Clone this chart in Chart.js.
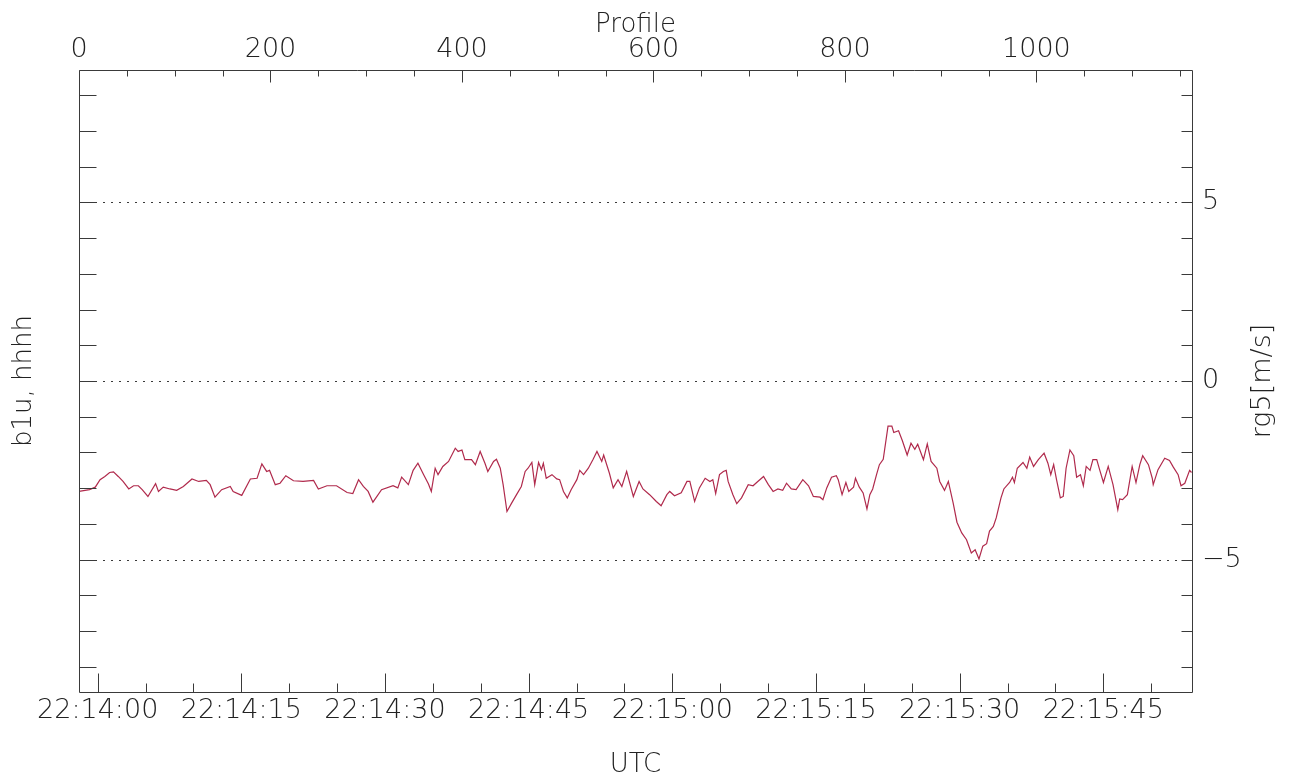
<!DOCTYPE html>
<html>
<head>
<meta charset="utf-8">
<title>rg5</title>
<script src="https://cdn.jsdelivr.net/npm/chart.js@4.4.1/dist/chart.umd.min.js"></script>
<style>
  html, body { margin: 0; padding: 0; background: #fff; }
  canvas { display: block; }
</style>
</head>
<body>
<canvas id="rgChart" width="1297" height="781"></canvas>
<script>
// profile number (top axis) and rg5 value
const profiles = [
  0, 11, 17, 22, 27, 32, 36, 41, 46, 52, 57, 62, 66, 72, 80, 83, 88, 95, 102, 109,
  118, 125, 133, 137, 142, 149, 158, 161, 170, 179, 186, 191, 196, 199, 205, 210, 216, 224, 234, 245,
  250, 259, 269, 280, 286, 292, 297, 302, 307, 316, 328, 333, 337, 344, 349, 354, 360, 365, 368, 372,
  375, 380, 386,
  393, 396, 400, 403, 410, 414, 419, 424, 427, 433, 436, 440, 443, 447, 452, 457, 462, 466, 469, 473,
  476, 480, 483, 485, 488, 494, 499, 502, 506, 510, 514, 520, 523, 527, 532, 537, 541, 546, 548, 554,
  558, 563, 567, 572, 579, 585, 589, 596, 603, 608, 614, 617, 622, 629, 635, 638, 643, 648, 654, 659,
  662, 665, 669, 673, 676, 678, 683, 687, 692, 699, 704, 709, 715, 720, 725, 730, 735, 739, 744, 749,
  756, 762, 767, 774, 777, 781, 786,
  791, 793, 797, 801, 804, 809, 811, 815, 819, 823, 826, 829, 833, 836, 840, 845, 849, 851, 856, 860,
  865, 869, 873, 876, 882, 886, 890, 896, 899, 904, 908, 913, 917, 922, 927, 932, 936, 940, 944, 948,
  951, 955, 958, 963, 966, 972, 975, 977, 980, 986, 990, 993, 997, 1002, 1008, 1012, 1015, 1018, 1021, 1025,
  1028, 1031, 1035, 1039, 1042, 1046, 1049, 1052, 1056, 1059, 1063, 1066, 1070, 1075, 1080, 1085, 1087, 1090, 1095, 1100,
  1104, 1108, 1111, 1117, 1121, 1122, 1127, 1134, 1139, 1143, 1148, 1151, 1155, 1160, 1162
];
const rg5 = [
  -3.09, -3.04, -2.97, -2.76, -2.67, -2.56, -2.54, -2.67, -2.81, -3.02, -2.93, -2.93, -3.04, -3.23, -2.87, -3.09, -2.97, -3.02, -3.06, -2.95,
  -2.74, -2.81, -2.78, -2.90, -3.25, -3.04, -2.95, -3.09, -3.20, -2.74, -2.72, -2.32, -2.53, -2.50, -2.90, -2.86, -2.65, -2.79, -2.81, -2.78,
  -3.02, -2.93, -2.93, -3.12, -3.15, -2.76, -2.95, -3.09, -3.39, -3.04, -2.93, -2.99, -2.69, -2.90, -2.50, -2.30, -2.62, -2.88, -3.09, -2.44,
  -2.62, -2.39, -2.25,
  -1.88, -1.97, -1.93, -2.20, -2.20, -2.34, -1.97, -2.30, -2.53, -2.25, -2.19, -2.44, -2.90, -3.65, -3.41, -3.18, -2.95, -2.53, -2.44, -2.28,
  -2.90, -2.28, -2.48, -2.30, -2.72, -2.62, -2.74, -2.76, -3.09, -3.27, -3.04, -2.76, -2.50, -2.62, -2.44, -2.19, -1.97, -2.25, -2.07, -2.58,
  -2.99, -2.76, -2.95, -2.53, -3.23, -2.81, -3.02, -3.18, -3.37, -3.49, -3.18, -3.09, -3.21, -3.13, -2.81, -2.81, -3.37, -2.99, -2.72, -2.81,
  -2.76, -3.15, -2.62, -2.53, -2.50, -2.81, -3.18, -3.43, -3.27, -2.90, -2.93, -2.81, -2.67, -2.90, -3.09, -3.02, -3.06, -2.86, -3.02, -3.04,
  -2.76, -2.93, -3.23, -3.25, -3.32, -2.99, -2.69,
  -2.65, -2.76, -3.18, -2.84, -3.09, -2.97, -2.72, -2.97, -3.13, -3.58, -3.18, -3.02, -2.62, -2.34, -2.19, -1.26, -1.26, -1.44, -1.39, -1.67,
  -2.07, -1.74, -1.91, -1.77, -2.20, -1.76, -2.25, -2.44, -2.81, -3.06, -2.81, -3.41, -3.95, -4.25, -4.44, -4.81, -4.72, -4.98, -4.62, -4.55,
  -4.20, -4.07, -3.83, -3.27, -3.02, -2.84, -2.69, -2.84, -2.44, -2.28, -2.44, -2.13, -2.39, -2.20, -2.02, -2.30, -2.62, -2.34, -2.76, -3.27,
  -3.23, -2.44, -1.93, -2.09, -2.69, -2.62, -2.93, -2.39, -2.50, -2.20, -2.20, -2.48, -2.84, -2.39, -2.90, -3.60, -3.30, -3.32, -3.18, -2.39,
  -2.84, -2.34, -2.09, -2.34, -2.72, -2.90, -2.48, -2.16, -2.22, -2.41, -2.62, -2.93, -2.86, -2.50, -2.56
];

const profileTicks = [0, 200, 400, 600, 800, 1000];
const utcTicks = [0, 15, 30, 45, 60, 75, 90, 105];   // seconds after 22:14:00
const rg5Ticks = [-5, 0, 5];

const profileMax = 1162.5;
const utcMin = -1.95, utcMax = 114.26;   // 10 profiles per second
const valMin = -8.7, valMax = 8.7;

const FONT = 'DejaVu Sans';
const TEXT = '#222';
const AXIS = '#3a3a3a';

function utcLabel(v) {
    const s = 80040 + v;
    const hh = Math.floor(s / 3600);
    const mm = Math.floor((s % 3600) / 60);
    const ss = Math.round(s % 60);
    const p = n => String(n).padStart(2, '0');
    return p(hh) + ':' + p(mm) + ':' + p(ss);
}

function fixTicks(list) {
    return function(scale) { scale.ticks = list.map(v => ({ value: v })); };
}

const frame = {
    id: 'frame',
    beforeDatasetsDraw(chart) {
        const ctx = chart.ctx, ca = chart.chartArea, y = chart.scales.y;
        ctx.save();
        ctx.strokeStyle = AXIS;
        ctx.lineWidth = 1;
        ctx.setLineDash([2, 6]);
        rg5Ticks.forEach(v => {
            const py = Math.round(y.getPixelForValue(v)) + 0.5;
            ctx.beginPath(); ctx.moveTo(ca.left, py); ctx.lineTo(ca.right, py); ctx.stroke();
        });
        ctx.restore();
    },
    afterDraw(chart) {
        const ctx = chart.ctx, ca = chart.chartArea;
        const y = chart.scales.y, x = chart.scales.x, x2 = chart.scales.x2;
        const L = ca.left + 0.5, R = Math.round(ca.right) + 0.5;
        const T = ca.top + 0.5, B = Math.round(ca.bottom) + 0.5;
        ctx.save();
        ctx.strokeStyle = AXIS;
        ctx.lineWidth = 1;
        const seg = (a, b, c, d) => { ctx.beginPath(); ctx.moveTo(a, b); ctx.lineTo(c, d); ctx.stroke(); };
        seg(L, T, R, T); seg(R, T, R, B); seg(R, B, L, B); seg(L, B, L, T);
        for (let v = -8; v <= 8; v++) {
            const py = Math.round(y.getPixelForValue(v)) + 0.5;
            seg(L, py, L + 17, py);
            seg(R - 11, py, R, py);
        }
        for (let p = 0; p <= 1150; p += 50) {
            const px = Math.round(x2.getPixelForValue(p)) + 0.5;
            seg(px, T, px, T + (p % 200 === 0 ? 12 : 6));
        }
        for (let s = 0; s <= 110; s += 5) {
            const px = Math.round(x.getPixelForValue(s)) + 0.5;
            seg(px, B, px, B - (s % 15 === 0 ? 19 : 9));
        }
        // right axis title reads bottom to top
        ctx.fillStyle = TEXT;
        ctx.font = '200 27px "' + FONT + '"';
        ctx.textAlign = 'center';
        ctx.textBaseline = 'middle';
        ctx.translate(1263, (ca.top + ca.bottom) / 2);
        ctx.rotate(-Math.PI / 2);
        ctx.fillText('rg5[m/s]', 0, 0);
        ctx.restore();
    }
};

const tickFont = { family: FONT, size: 27, weight: 200, lineHeight: 1 };
const titleFont = { family: FONT, size: 26, weight: 200, lineHeight: 1 };

new Chart(document.getElementById('rgChart'), {
    type: 'line',
    data: {
        datasets: [{
            data: profiles.map((p, i) => ({ x: p, y: rg5[i] })),
            xAxisID: 'x2',
            yAxisID: 'y',
            borderColor: '#b02a4c',
            borderWidth: 1.2,
            pointRadius: 0,
            tension: 0
        }]
    },
    options: {
        responsive: false,
        animation: false,
        devicePixelRatio: 1,
        layout: { padding: 0 },
        plugins: { legend: { display: false }, tooltip: { enabled: false } },
        scales: {
            x: {
                type: 'linear', position: 'bottom', min: utcMin, max: utcMax,
                grid: { display: false, drawTicks: false }, border: { display: false },
                afterBuildTicks: fixTicks(utcTicks),
                afterFit(s) { s.height = 89; s.paddingLeft = 0; s.paddingRight = 0; },
                ticks: { font: tickFont, color: TEXT, padding: 5, maxRotation: 0, autoSkip: false, callback: v => utcLabel(v) },
                title: { display: true, text: 'UTC', font: titleFont, color: TEXT, padding: { bottom: 3 } }
            },
            x2: {
                type: 'linear', position: 'top', min: 0, max: profileMax,
                grid: { display: false, drawTicks: false }, border: { display: false },
                afterBuildTicks: fixTicks(profileTicks),
                afterFit(s) { s.height = 70; s.paddingLeft = 0; s.paddingRight = 0; },
                ticks: { font: tickFont, color: TEXT, padding: 7, maxRotation: 0, autoSkip: false, callback: v => String(v) },
                title: { display: true, text: 'Profile', font: titleFont, color: TEXT, padding: { top: 12 } }
            },
            y: {
                type: 'linear', position: 'left', min: valMin, max: valMax,
                grid: { display: false, drawTicks: false }, border: { display: false },
                ticks: { display: false },
                afterFit(s) { s.width = 79; s.paddingTop = 0; s.paddingBottom = 0; },
                title: { display: true, text: 'b1u, hhhh', font: titleFont, color: TEXT, padding: { top: 11 } }
            },
            y2: {
                type: 'linear', position: 'right', min: valMin, max: valMax,
                grid: { display: false, drawTicks: false }, border: { display: false },
                afterBuildTicks: fixTicks(rg5Ticks),
                afterFit(s) { s.width = 105; s.paddingTop = 0; s.paddingBottom = 0; },
                ticks: { font: tickFont, color: TEXT, padding: 10, autoSkip: false,
                         callback: v => v < 0 ? '\u2212' + Math.abs(v) : String(v) }
            }
        }
    },
    plugins: [frame]
});
</script>
</body>
</html>
